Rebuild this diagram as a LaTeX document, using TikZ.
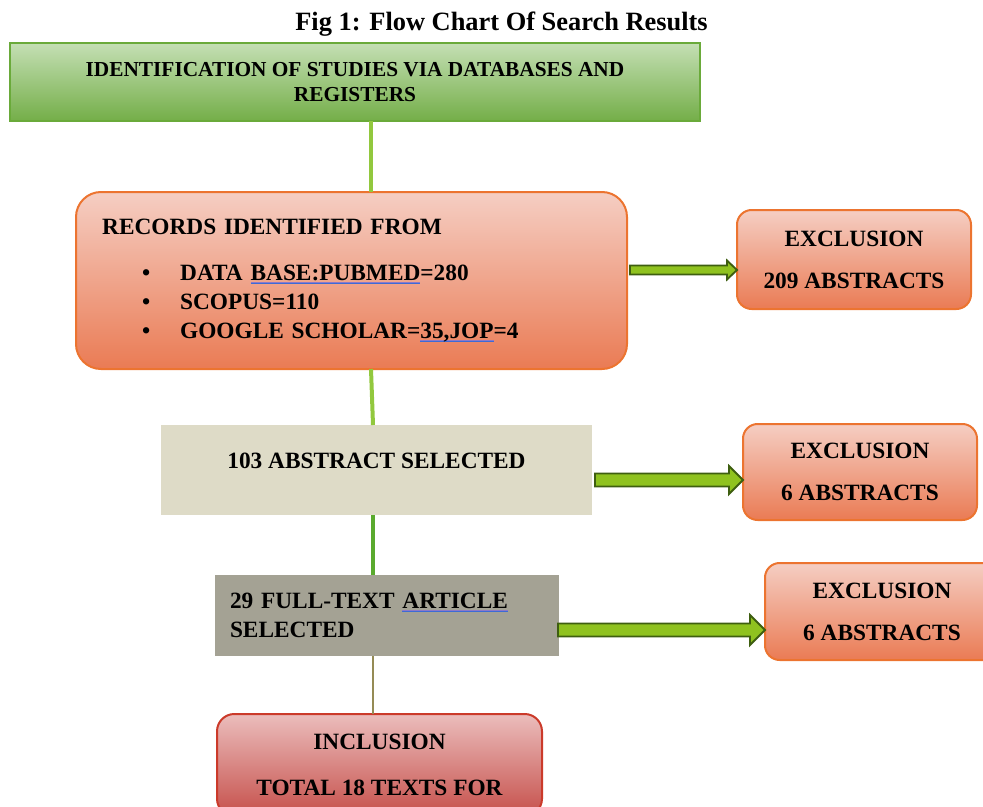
\documentclass[tikz,border=0pt]{standalone}
\usepackage{fontspec}
\setmainfont{Liberation Serif}
\usetikzlibrary{calc}
\definecolor{grnT}{HTML}{C4DFB4}
\definecolor{grnBot}{HTML}{74AE48}
\definecolor{grnB}{HTML}{6AAA3A}
\definecolor{orgT}{HTML}{F5CEC3}
\definecolor{orgBot}{HTML}{EA7B54}
\definecolor{orgB}{HTML}{EC7430}
\definecolor{absF}{HTML}{DEDBC7}
\definecolor{fullF}{HTML}{A4A294}
\definecolor{incT}{HTML}{EBBDBC}
\definecolor{incBot}{HTML}{C6504B}
\definecolor{incB}{HTML}{CB3A2A}
\definecolor{arrF}{HTML}{8FC21F}
\definecolor{arrB}{HTML}{3E5E10}
\definecolor{conA}{HTML}{92C83E}
\definecolor{conB}{HTML}{5AAA2E}
\definecolor{conC}{HTML}{958B55}
\definecolor{ulA}{HTML}{8C78C8}
\definecolor{ulB}{HTML}{3D6BD6}
\newcommand\dul[1]{\setbox0\hbox{#1}\leavevmode\rlap{\color{ulA}\rule[-1.6pt]{\wd0}{0.55pt}}\rlap{\color{ulB}\rule[-2.7pt]{\wd0}{0.55pt}}\box0}
\newcommand\blockarrow[5]{%
  \draw[blk] let \p1=(#1), \p2=(#2) in
    (\x1,\y1+#3) -- (\x2-#5,\y1+#3) -- (\x2-#5,\y1+#4) -- (\x2,\y1)
    -- (\x2-#5,\y1-#4) -- (\x2-#5,\y1-#3) -- (\x1,\y1-#3) -- cycle;}
\newcommand\bul{\hspace*{30pt}\makebox[28.5pt][l]{•}}
\begin{document}
\begin{tikzpicture}[x=0.75pt,y=-0.75pt,
  every node/.style={inner sep=0pt, outer sep=0pt},
  bodyfont/.style={font=\fontsize{17.5}{21.75}\selectfont\bfseries},
  exclbox/.style={draw=orgB, line width=1.5pt, rounded corners=11pt,
    top color=orgT, bottom color=orgBot, minimum width=175.5pt,
    anchor=north west, align=center,
    font=\fontsize{17.5}{31.5}\selectfont\bfseries},
  blk/.style={draw=arrB, line width=1.4pt, fill=arrF, line join=miter},
  conn/.style={line width=3pt, draw=conA}]
\useasboundingbox (0,0) rectangle (983,807);
\clip (0,0) rectangle (983,807);

\node[font=\fontsize{19.8}{22}\selectfont\bfseries] (title) at (501.5,24) {Fig 1: Flow Chart Of Search Results};

\node[draw=grnB, line width=1.5pt, top color=grnT, bottom color=grnBot,
  minimum width=517.5pt, minimum height=58.5pt, anchor=north west, align=center,
  font=\fontsize{16}{18.75}\selectfont\bfseries] (green) at (10,43)
  {IDENTIFICATION OF STUDIES VIA DATABASES AND\\REGISTERS};

\node[draw=orgB, line width=1.5pt, rounded corners=18.75pt, top color=orgT, bottom color=orgBot,
  minimum width=413.25pt, minimum height=132.75pt, anchor=north west,
  text width=374pt, inner xsep=19.5pt, align=left, bodyfont] (rec) at (76,192)
  {RECORDS IDENTIFIED FROM\\[12.75pt]
   \bul DATA \dul{BASE:PUBMED}=280\\
   \bul SCOPUS=110\\
   \bul GOOGLE SCHOLAR=\dul{35,JOP}=4};

\node[exclbox, minimum height=74.25pt] (ex1) at (737,210) {EXCLUSION\\209 ABSTRACTS};

\node[fill=absF, minimum width=323.25pt, minimum height=67.5pt, anchor=north west,
  text height=12pt, text depth=14.5pt, bodyfont] (abs) at (161,425) {103 ABSTRACT SELECTED};

\node[exclbox, minimum height=72pt] (ex2) at (743,424) {EXCLUSION\\6 ABSTRACTS};

\node[fill=fullF, minimum width=258pt, minimum height=60.75pt, anchor=north west,
  text width=235.5pt, inner xsep=11.25pt, align=left, bodyfont] (full) at (215,575)
  {29 FULL-TEXT \dul{ARTICLE}\\SELECTED};

\node[exclbox, minimum height=72.75pt] (ex3) at (765,563) {EXCLUSION\\6 ABSTRACTS};

\node[draw=incB, line width=1.5pt, rounded corners=13pt, top color=incT, bottom color=incBot,
  minimum width=243.75pt, minimum height=76.5pt, anchor=north west, align=center,
  font=\fontsize{17.5}{34.5}\selectfont\bfseries] (inc) at (217,714)
  {INCLUSION\\TOTAL 18 TEXTS FOR};

\coordinate (cA) at (371,0);
\coordinate (cB) at (373,0);
\draw[conn] (green.south -| cA) -- (rec.north -| cA);
\draw[conn] (rec.south -| cA) -- (abs.north -| cB);
\draw[conn, draw=conB] (abs.south -| cB) -- (full.north -| cB);
\draw[conn, draw=conC, line width=2pt] (full.south -| cB) -- (inc.north -| cB);

\coordinate (a1s) at (630,270);
\coordinate (a1e) at (ex1.west |- a1s);
\coordinate (a2s) at (595,480);
\coordinate (a2e) at (ex2.west |- a2s);
\coordinate (a3s) at (558,630);
\coordinate (a3e) at (ex3.west |- a3s);
\blockarrow{a1s}{a1e}{3.4pt}{7.1pt}{7.5pt}
\blockarrow{a2s}{a2e}{4.9pt}{10.5pt}{10.5pt}
\blockarrow{a3s}{a3e}{4.9pt}{11.25pt}{11.25pt}
\end{tikzpicture}
\end{document}
